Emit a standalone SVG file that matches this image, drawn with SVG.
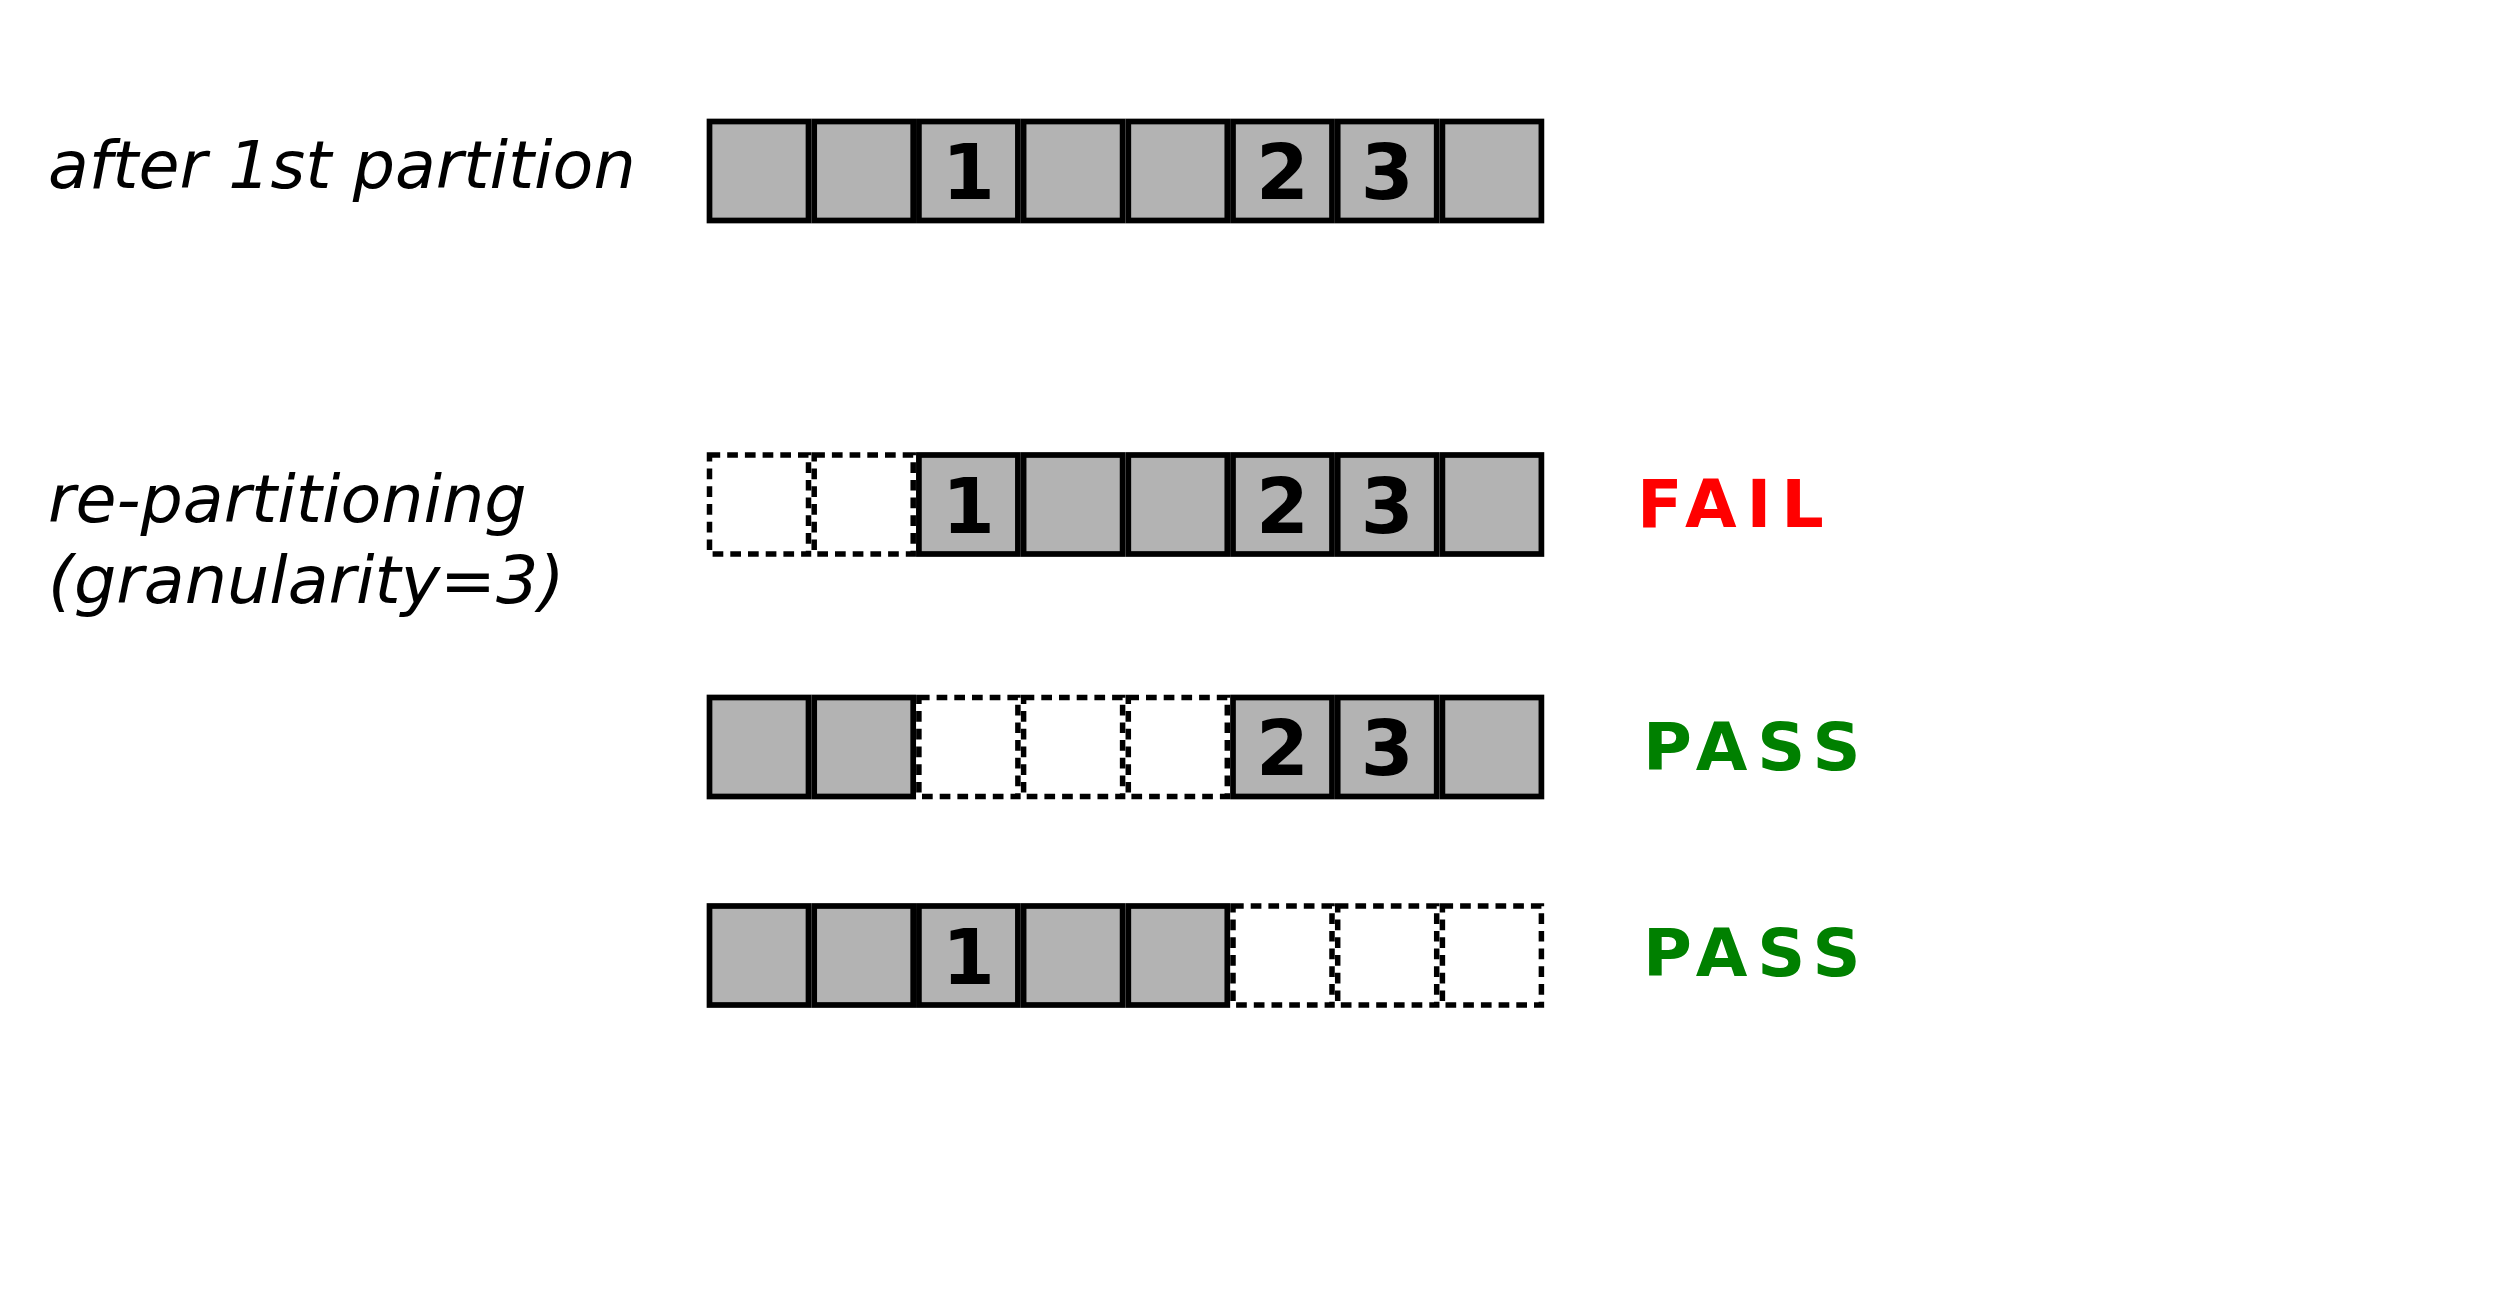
<svg xmlns="http://www.w3.org/2000/svg" width="2500" height="1314" viewBox="0 0 2500 1314">
<style>
.lbl{font-family:"DejaVu Sans",sans-serif;font-style:italic;font-size:66.7px;fill:#000}
.b{fill:#b3b3b3;stroke:#000;stroke-width:5.7}
.d{fill:none;stroke:#000;stroke-width:5.5;stroke-dasharray:10.7 7}
.n{font-family:"DejaVu Sans",sans-serif;font-weight:bold;font-size:76px;fill:#000;text-anchor:middle}
.r{font-family:"DejaVu Sans",sans-serif;font-weight:bold;font-size:66.7px;letter-spacing:10px}
</style>
<rect width="2500" height="1314" fill="#fff"/>
<g id="label-1"><text class="lbl" x="48" y="188">after 1st partition</text></g>
<g id="label-2"><text class="lbl" x="48" y="522">re-partitioning</text><text class="lbl" x="48" y="603">(granularity=3)</text></g>
<g id="row-1">
<rect class="b" x="709.5" y="121.5" width="99" height="99"/>
<rect class="b" x="814.2" y="121.5" width="99" height="99"/>
<rect class="b" x="918.9" y="121.5" width="99" height="99"/>
<rect class="b" x="1023.6" y="121.5" width="99" height="99"/>
<rect class="b" x="1128.3" y="121.5" width="99" height="99"/>
<rect class="b" x="1233" y="121.5" width="99" height="99"/>
<rect class="b" x="1337.7" y="121.5" width="99" height="99"/>
<rect class="b" x="1442.4" y="121.5" width="99" height="99"/>
<text class="n" x="968.4" y="199">1</text>
<text class="n" x="1282.5" y="199">2</text>
<text class="n" x="1387.2" y="199">3</text>
</g>
<g id="row-2">
<rect class="d" x="709.5" y="455" width="99" height="99"/>
<rect class="d" x="814.2" y="455" width="99" height="99"/>
<rect class="b" x="918.9" y="455" width="99" height="99"/>
<rect class="b" x="1023.6" y="455" width="99" height="99"/>
<rect class="b" x="1128.3" y="455" width="99" height="99"/>
<rect class="b" x="1233" y="455" width="99" height="99"/>
<rect class="b" x="1337.7" y="455" width="99" height="99"/>
<rect class="b" x="1442.4" y="455" width="99" height="99"/>
<text class="n" x="968.4" y="532.5">1</text>
<text class="n" x="1282.5" y="532.5">2</text>
<text class="n" x="1387.2" y="532.5">3</text>
<text class="r" x="1637" y="527" fill="#ff0000">FAIL</text>
</g>
<g id="row-3">
<rect class="b" x="709.5" y="697.5" width="99" height="99"/>
<rect class="b" x="814.2" y="697.5" width="99" height="99"/>
<rect class="d" x="918.9" y="697.5" width="99" height="99"/>
<rect class="d" x="1023.6" y="697.5" width="99" height="99"/>
<rect class="d" x="1128.3" y="697.5" width="99" height="99"/>
<rect class="b" x="1233" y="697.5" width="99" height="99"/>
<rect class="b" x="1337.7" y="697.5" width="99" height="99"/>
<rect class="b" x="1442.4" y="697.5" width="99" height="99"/>
<text class="n" x="1282.5" y="775">2</text>
<text class="n" x="1387.2" y="775">3</text>
<text class="r" x="1643" y="770" fill="#008000">PASS</text>
</g>
<g id="row-4">
<rect class="b" x="709.5" y="906" width="99" height="99"/>
<rect class="b" x="814.2" y="906" width="99" height="99"/>
<rect class="b" x="918.9" y="906" width="99" height="99"/>
<rect class="b" x="1023.6" y="906" width="99" height="99"/>
<rect class="b" x="1128.3" y="906" width="99" height="99"/>
<rect class="d" x="1233" y="906" width="99" height="99"/>
<rect class="d" x="1337.7" y="906" width="99" height="99"/>
<rect class="d" x="1442.4" y="906" width="99" height="99"/>
<text class="n" x="968.4" y="983.5">1</text>
<text class="r" x="1643" y="976" fill="#008000">PASS</text>
</g>
<g id="connectors"/>
</svg>
